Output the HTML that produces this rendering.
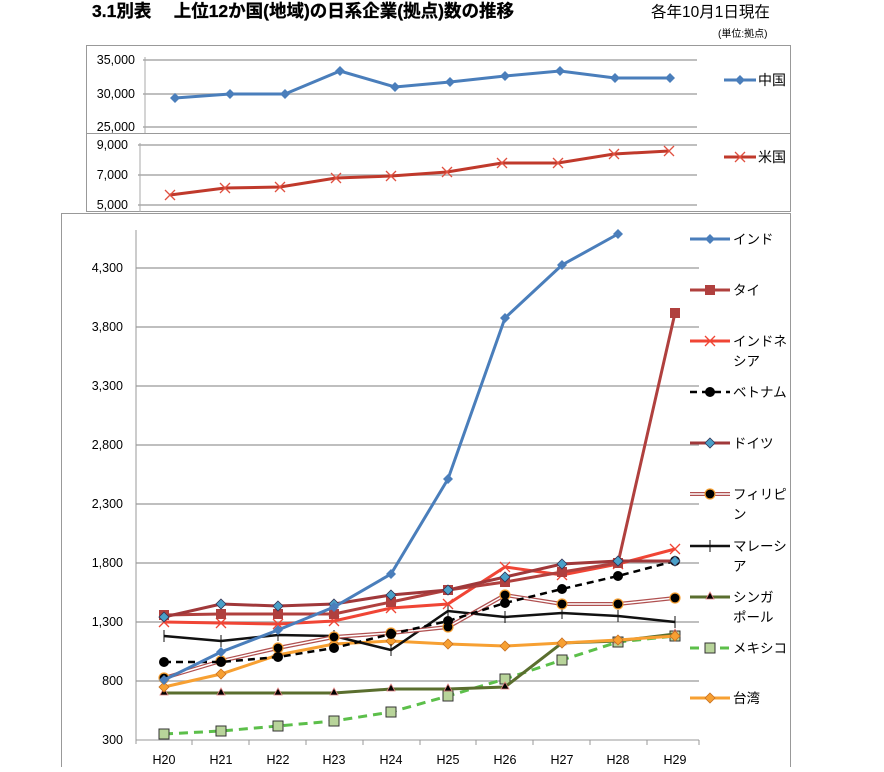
<!DOCTYPE html>
<html><head><meta charset="utf-8"><style>
body{margin:0;background:#fff;width:884px;height:767px;overflow:hidden;font-family:"Liberation Sans","Noto Sans CJK JP",sans-serif}
svg text{font-family:"Liberation Sans","Noto Sans CJK JP",sans-serif}
</style></head><body>
<svg width="884" height="767" xmlns="http://www.w3.org/2000/svg">
<defs>
<path id="dia" d="M0,-5 L5,0 L0,5 L-5,0Z"/>
</defs>
<text x="92" y="17" font-size="17.5" font-weight="bold" fill="#000" stroke="#000" stroke-width="0.3">3.1別表　 上位12か国(地域)の日系企業(拠点)数の推移</text>
<text x="651" y="17" font-size="15.5" fill="#000">各年10月1日現在</text>
<text x="718" y="37" font-size="10" fill="#000">(単位:拠点)</text>

<!-- top China panel -->
<rect x="86.5" y="45.5" width="704" height="88" fill="none" stroke="#999"/>
<g stroke="#aaa" stroke-width="1.5">
<line x1="143" y1="60" x2="697" y2="60"/><line x1="143" y1="94" x2="697" y2="94"/><line x1="143" y1="127" x2="697" y2="127"/>
</g>
<line x1="145" y1="57" x2="145" y2="133" stroke="#aaa"/>
<g font-size="12.5" text-anchor="end" fill="#000"><text x="135" y="64">35,000</text><text x="135" y="98">30,000</text><text x="135" y="131">25,000</text></g>
<polyline fill="none" stroke="#4a7ebb" stroke-width="3" points="175,98 230,94 285,94 340,71 395,87 450,82 505,76 560,71 615,78 670,78"/>
<g fill="#4a7ebb"><use href="#dia" x="175" y="98"/><use href="#dia" x="230" y="94"/><use href="#dia" x="285" y="94"/><use href="#dia" x="340" y="71"/><use href="#dia" x="395" y="87"/><use href="#dia" x="450" y="82"/><use href="#dia" x="505" y="76"/><use href="#dia" x="560" y="71"/><use href="#dia" x="615" y="78"/><use href="#dia" x="670" y="78"/></g>
<line x1="724" y1="80" x2="756" y2="80" stroke="#4a7ebb" stroke-width="3"/><use href="#dia" x="740" y="80" fill="#4a7ebb"/>
<text x="758" y="85" font-size="14">中国</text>

<!-- US panel -->
<rect x="86.5" y="133.5" width="704" height="78" fill="none" stroke="#999"/>
<g stroke="#aaa" stroke-width="1.5">
<line x1="138" y1="145" x2="697" y2="145"/><line x1="138" y1="175" x2="697" y2="175"/><line x1="138" y1="205" x2="697" y2="205"/>
</g>
<line x1="140" y1="143" x2="140" y2="212" stroke="#aaa"/>
<g font-size="12.5" text-anchor="end" fill="#000"><text x="128" y="149">9,000</text><text x="128" y="179">7,000</text><text x="128" y="209">5,000</text></g>
<polyline fill="none" stroke="#c0392b" stroke-width="3" points="170,195 225,188 280,187 336,178 391,176 447,172 502,163 558,163 614,154 669,151"/>
<g stroke="#e05040" stroke-width="1.3" fill="none">
<path d="M165,190l10,10m0,-10l-10,10M220,183l10,10m0,-10l-10,10M275,182l10,10m0,-10l-10,10M331,173l10,10m0,-10l-10,10M386,171l10,10m0,-10l-10,10M442,167l10,10m0,-10l-10,10M497,158l10,10m0,-10l-10,10M553,158l10,10m0,-10l-10,10M609,149l10,10m0,-10l-10,10M664,146l10,10m0,-10l-10,10"/>
</g>
<line x1="724" y1="157" x2="756" y2="157" stroke="#c0392b" stroke-width="3"/>
<path d="M735,152l10,10m0,-10l-10,10" stroke="#e05040" stroke-width="1.3"/>
<text x="758" y="162" font-size="14">米国</text>

<!-- bottom panel -->
<rect x="61.5" y="213.5" width="729" height="560" fill="none" stroke="#999"/>
<g stroke="#aaa" stroke-width="1.5">
<line x1="136" y1="268" x2="699" y2="268"/><line x1="136" y1="327" x2="699" y2="327"/><line x1="136" y1="386" x2="699" y2="386"/><line x1="136" y1="445" x2="699" y2="445"/><line x1="136" y1="504" x2="699" y2="504"/><line x1="136" y1="563" x2="699" y2="563"/><line x1="136" y1="622" x2="699" y2="622"/><line x1="136" y1="681" x2="699" y2="681"/>
</g>
<line x1="136" y1="740" x2="699" y2="740" stroke="#999" stroke-width="1"/>
<line x1="136" y1="230" x2="136" y2="744" stroke="#999"/>
<g stroke="#999"><line x1="192" y1="740" x2="192" y2="745"/><line x1="249" y1="740" x2="249" y2="745"/><line x1="306" y1="740" x2="306" y2="745"/><line x1="363" y1="740" x2="363" y2="745"/><line x1="420" y1="740" x2="420" y2="745"/><line x1="476" y1="740" x2="476" y2="745"/><line x1="533" y1="740" x2="533" y2="745"/><line x1="590" y1="740" x2="590" y2="745"/><line x1="647" y1="740" x2="647" y2="745"/><line x1="699" y1="740" x2="699" y2="745"/></g>
<g font-size="12.5" text-anchor="end" fill="#000">
<text x="123" y="272">4,300</text><text x="123" y="331">3,800</text><text x="123" y="390">3,300</text><text x="123" y="449">2,800</text><text x="123" y="508">2,300</text><text x="123" y="567">1,800</text><text x="123" y="626">1,300</text><text x="123" y="685">800</text><text x="123" y="744">300</text>
</g>
<g font-size="12.5" text-anchor="middle" fill="#000">
<text x="164" y="764">H20</text><text x="221" y="764">H21</text><text x="278" y="764">H22</text><text x="334" y="764">H23</text><text x="391" y="764">H24</text><text x="448" y="764">H25</text><text x="505" y="764">H26</text><text x="562" y="764">H27</text><text x="618" y="764">H28</text><text x="675" y="764">H29</text>
</g>

<!-- Mexico -->
<polyline fill="none" stroke="#5cbf4a" stroke-width="3" stroke-dasharray="9,6" points="164,734 221,731 278,726 334,721 391,712 448,696 505,679 562,660 618,642 675,636"/>
<g fill="#b8d49a" stroke="#333" stroke-width="1"><rect x="159" y="729" width="10" height="10"/><rect x="216" y="726" width="10" height="10"/><rect x="273" y="721" width="10" height="10"/><rect x="329" y="716" width="10" height="10"/><rect x="386" y="707" width="10" height="10"/><rect x="443" y="691" width="10" height="10"/><rect x="500" y="674" width="10" height="10"/><rect x="557" y="655" width="10" height="10"/><rect x="613" y="637" width="10" height="10"/><rect x="670" y="631" width="10" height="10"/></g>
<!-- Singapore -->
<polyline fill="none" stroke="#5a6e2e" stroke-width="3" points="164,693 221,693 278,693 334,693 391,689 448,689 505,687 562,643 618,641 675,634"/>
<g fill="#000" stroke="#e08080" stroke-width="0.8"><path d="M164,688l4,7h-8z"/><path d="M221,688l4,7h-8z"/><path d="M278,688l4,7h-8z"/><path d="M334,688l4,7h-8z"/><path d="M391,684l4,7h-8z"/><path d="M448,684l4,7h-8z"/><path d="M505,682l4,7h-8z"/><path d="M562,638l4,7h-8z"/><path d="M618,636l4,7h-8z"/><path d="M675,629l4,7h-8z"/></g>
<!-- Taiwan -->
<polyline fill="none" stroke="#f7a032" stroke-width="3" points="164,687 221,674 278,655 334,644 391,641 448,644 505,646 562,643 618,640 675,636"/>
<g fill="#f7a032" stroke="#c87020" stroke-width="0.8"><use href="#dia" x="164" y="687"/><use href="#dia" x="221" y="674"/><use href="#dia" x="278" y="655"/><use href="#dia" x="334" y="644"/><use href="#dia" x="391" y="641"/><use href="#dia" x="448" y="644"/><use href="#dia" x="505" y="646"/><use href="#dia" x="562" y="643"/><use href="#dia" x="618" y="640"/><use href="#dia" x="675" y="636"/></g>
<!-- Malaysia -->
<polyline fill="none" stroke="#111" stroke-width="2.5" points="164,636 221,641 278,635 334,636 391,650 448,611 505,617 562,613 618,616 675,622"/>
<g stroke="#111" stroke-width="1"><path d="M164,630v12M221,635v12M278,629v12M334,630v12M391,644v12M448,605v12M505,611v12M562,607v12M618,610v12M675,616v12"/></g>
<!-- Philippines -->
<polyline fill="none" stroke="#b05050" stroke-width="4" points="164,678 221,661 278,648 334,637 391,633 448,627 505,595 562,604 618,604 675,598"/>
<polyline fill="none" stroke="#fff" stroke-width="1.5" points="164,678 221,661 278,648 334,637 391,633 448,627 505,595 562,604 618,604 675,598"/>
<g fill="#000" stroke="#f7a032" stroke-width="1.2"><circle cx="164" cy="678" r="5"/><circle cx="221" cy="661" r="5"/><circle cx="278" cy="648" r="5"/><circle cx="334" cy="637" r="5"/><circle cx="391" cy="633" r="5"/><circle cx="448" cy="627" r="5"/><circle cx="505" cy="595" r="5"/><circle cx="562" cy="604" r="5"/><circle cx="618" cy="604" r="5"/><circle cx="675" cy="598" r="5"/></g>
<!-- Vietnam -->
<polyline fill="none" stroke="#000" stroke-width="2.5" stroke-dasharray="7,5" points="164,662 221,662 278,657 334,648 391,634 448,621 505,603 562,589 618,576 675,561"/>
<g fill="#000"><circle cx="164" cy="662" r="5"/><circle cx="221" cy="662" r="5"/><circle cx="278" cy="657" r="5"/><circle cx="334" cy="648" r="5"/><circle cx="391" cy="634" r="5"/><circle cx="448" cy="621" r="5"/><circle cx="505" cy="603" r="5"/><circle cx="562" cy="589" r="5"/><circle cx="618" cy="576" r="5"/><circle cx="675" cy="561" r="5"/></g>
<!-- Indonesia -->
<polyline fill="none" stroke="#f04535" stroke-width="3" points="164,622 221,623 278,624 334,621 391,608 448,604 505,567 562,575 618,564 675,549"/>
<g stroke="#f04535" stroke-width="1.3" fill="none"><path d="M159,617l10,10m0,-10l-10,10M216,618l10,10m0,-10l-10,10M273,619l10,10m0,-10l-10,10M329,616l10,10m0,-10l-10,10M386,603l10,10m0,-10l-10,10M443,599l10,10m0,-10l-10,10M500,562l10,10m0,-10l-10,10M557,570l10,10m0,-10l-10,10M613,559l10,10m0,-10l-10,10M670,544l10,10m0,-10l-10,10"/></g>
<!-- Thai -->
<polyline fill="none" stroke="#b0403e" stroke-width="3" points="164,615 221,614 278,614 334,614 391,602 448,590 505,582 562,572 618,563 675,313"/>
<g fill="#b0403e"><rect x="159" y="610" width="10" height="10"/><rect x="216" y="609" width="10" height="10"/><rect x="273" y="609" width="10" height="10"/><rect x="329" y="609" width="10" height="10"/><rect x="386" y="597" width="10" height="10"/><rect x="443" y="585" width="10" height="10"/><rect x="500" y="577" width="10" height="10"/><rect x="557" y="567" width="10" height="10"/><rect x="613" y="558" width="10" height="10"/><rect x="670" y="308" width="10" height="10"/></g>
<!-- Germany -->
<polyline fill="none" stroke="#a0383a" stroke-width="3" points="164,617 221,604 278,606 334,604 391,595 448,590 505,577 562,564 618,561 675,561"/>
<g fill="#4aa0c8" stroke="#335" stroke-width="0.8"><use href="#dia" x="164" y="617"/><use href="#dia" x="221" y="604"/><use href="#dia" x="278" y="606"/><use href="#dia" x="334" y="604"/><use href="#dia" x="391" y="595"/><use href="#dia" x="448" y="590"/><use href="#dia" x="505" y="577"/><use href="#dia" x="562" y="564"/><use href="#dia" x="618" y="561"/><use href="#dia" x="675" y="561"/></g>
<!-- India -->
<polyline fill="none" stroke="#4a7ebb" stroke-width="3" points="164,680 221,652 278,630 334,607 391,574 448,479 505,318 562,265 618,234"/>
<g fill="#4a7ebb"><use href="#dia" x="164" y="680"/><use href="#dia" x="221" y="652"/><use href="#dia" x="278" y="630"/><use href="#dia" x="334" y="607"/><use href="#dia" x="391" y="574"/><use href="#dia" x="448" y="479"/><use href="#dia" x="505" y="318"/><use href="#dia" x="562" y="265"/><use href="#dia" x="618" y="234"/></g>

<!-- legend -->
<g font-size="13.5" fill="#000">
<line x1="690" y1="239" x2="730" y2="239" stroke="#4a7ebb" stroke-width="3"/><use href="#dia" x="710" y="239" fill="#4a7ebb"/><text x="733" y="244">インド</text>
<line x1="690" y1="290" x2="730" y2="290" stroke="#b0403e" stroke-width="3"/><rect x="705" y="285" width="10" height="10" fill="#b0403e"/><text x="733" y="295">タイ</text>
<line x1="690" y1="341" x2="730" y2="341" stroke="#f04535" stroke-width="3"/><path d="M705,336l10,10m0,-10l-10,10" stroke="#f04535" stroke-width="1.3"/><text x="733" y="346">インドネ</text><text x="733" y="366">シア</text>
<line x1="690" y1="392" x2="730" y2="392" stroke="#000" stroke-width="2.5" stroke-dasharray="7,5"/><circle cx="710" cy="392" r="5"/><text x="733" y="397">ベトナム</text>
<line x1="690" y1="443" x2="730" y2="443" stroke="#a0383a" stroke-width="3"/><use href="#dia" x="710" y="443" fill="#4aa0c8" stroke="#335" stroke-width="0.8"/><text x="733" y="448">ドイツ</text>
<line x1="690" y1="494" x2="730" y2="494" stroke="#b05050" stroke-width="4"/><line x1="690" y1="494" x2="730" y2="494" stroke="#fff" stroke-width="1.5"/><circle cx="710" cy="494" r="5" stroke="#f7a032" stroke-width="1.2"/><text x="733" y="499">フィリピ</text><text x="733" y="519">ン</text>
<line x1="690" y1="546" x2="730" y2="546" stroke="#111" stroke-width="2.5"/><path d="M710,540v12" stroke="#111"/><text x="733" y="551">マレーシ</text><text x="733" y="571">ア</text>
<line x1="690" y1="597" x2="730" y2="597" stroke="#5a6e2e" stroke-width="3"/><path d="M710,592l4,7h-8z" stroke="#e08080" stroke-width="0.8"/><text x="733" y="602">シンガ</text><text x="733" y="622">ポール</text>
<line x1="690" y1="648" x2="730" y2="648" stroke="#5cbf4a" stroke-width="3" stroke-dasharray="9,6"/><rect x="705" y="643" width="10" height="10" fill="#b8d49a" stroke="#333"/><text x="733" y="653">メキシコ</text>
<line x1="690" y1="698" x2="730" y2="698" stroke="#f7a032" stroke-width="3"/><use href="#dia" x="710" y="698" fill="#f7a032" stroke="#c87020" stroke-width="0.8"/><text x="733" y="703">台湾</text>
</g>
</svg>
</body></html>
